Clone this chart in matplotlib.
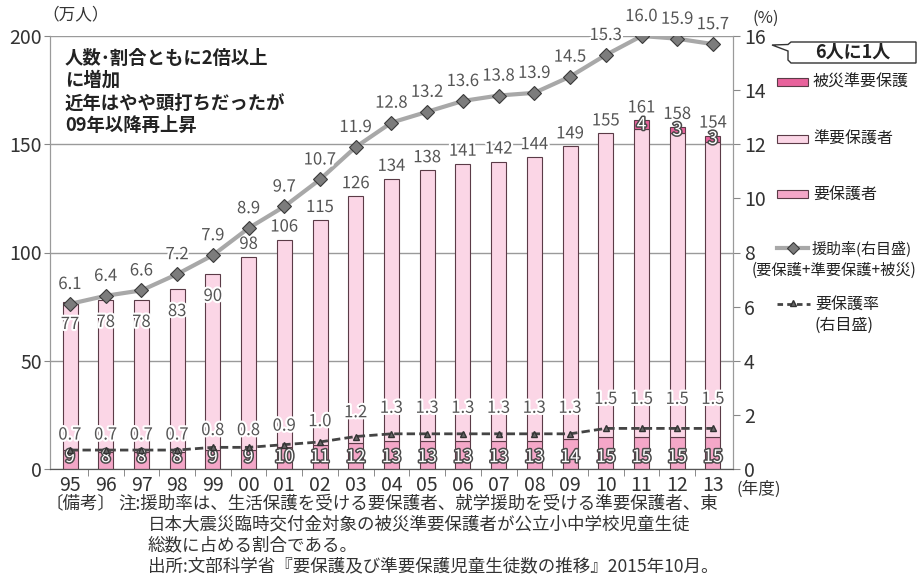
#libs
import matplotlib
matplotlib.use('Agg')
import matplotlib.pyplot as plt
import matplotlib.patheffects as pe
from matplotlib.patches import Rectangle, Polygon
from matplotlib.lines import Line2D
import numpy as np

plt.rcParams['font.family'] = ['Noto Sans CJK JP', 'DejaVu Sans']

#data
years = ['95', '96', '97', '98', '99', '00', '01', '02', '03', '04',
         '05', '06', '07', '08', '09', '10', '11', '12', '13']
total = [77, 78, 78, 83, 90, 98, 106, 115, 126, 134,
         138, 141, 142, 144, 149, 155, 161, 158, 154]
youhogo = [9, 8, 8, 8, 9, 9, 10, 11, 12, 13,
           13, 13, 13, 13, 14, 15, 15, 15, 15]
hisai = [0, 0, 0, 0, 0, 0, 0, 0, 0, 0,
         0, 0, 0, 0, 0, 0, 4, 3, 3]
enjo_rate = [6.1, 6.4, 6.6, 7.2, 7.9, 8.9, 9.7, 10.7, 11.9, 12.8,
             13.2, 13.6, 13.8, 13.9, 14.5, 15.3, 16.0, 15.9, 15.7]
youhogo_rate = [0.7, 0.7, 0.7, 0.7, 0.8, 0.8, 0.9, 1.0, 1.2, 1.3,
                1.3, 1.3, 1.3, 1.3, 1.3, 1.5, 1.5, 1.5, 1.5]

total = np.array(total)
youhogo = np.array(youhogo)
hisai = np.array(hisai)
jun = total - youhogo - hisai

c_you = '#f4a7c8'
c_jun = '#fbd6e6'
c_hisai = '#e8639c'
c_edge = '#5b3b47'
gray_txt = '#555555'

W, H = 918, 585
def fx(x):
    return x / W
def fy(y):
    return 1 - y / H

fig = plt.figure(figsize=(W / 100, H / 100), dpi=100)
ax = fig.add_axes([fx(50), fy(469), (733 - 50) / W, (469 - 36) / H])
ax2 = ax.twinx()

x = np.arange(len(years))
bw = 0.42
ax.bar(x, youhogo, bw, color=c_you, edgecolor=c_edge, linewidth=0.8, zorder=2)
ax.bar(x, jun, bw, bottom=youhogo, color=c_jun, edgecolor=c_edge, linewidth=0.8, zorder=2)
hb = hisai > 0
ax.bar(x[hb], hisai[hb], bw, bottom=(youhogo + jun)[hb], color=c_hisai,
       edgecolor=c_edge, linewidth=0.8, zorder=2)

ax.set_xlim(-0.56, len(years) - 0.44)
ax.set_ylim(0, 200)
ax2.set_ylim(0, 16)
ax.set_yticks([0, 50, 100, 150, 200])
ax2.set_yticks(range(0, 17, 2))
ax.yaxis.grid(True, color='#9a9a9a', linewidth=1)
ax.set_axisbelow(True)
ax.set_xticks(x)
ax.set_xticklabels(years)
ax.set_xticks(x[:-1] + 0.5, minor=True)
ax.tick_params(axis='x', which='major', length=0, labelsize=14, colors='#333333', pad=4)
ax.tick_params(axis='x', which='minor', length=5, color='#777777', direction='out')
ax.tick_params(axis='y', length=4, labelsize=14, colors='#333333', color='#888888', pad=2)
ax2.tick_params(axis='y', length=5, labelsize=14, colors='#333333', color='#888888', pad=3)
for a in (ax, ax2):
    a.spines['top'].set_visible(False)
    a.spines['left'].set_color('#9a9a9a')
    a.spines['right'].set_color('#9a9a9a')
    a.spines['bottom'].set_color('#555555')

# lines on right axis
ax2.plot(x, enjo_rate, color='#a8a8a8', linewidth=3, marker='D', markersize=7,
         markerfacecolor='#7c7c7c', markeredgecolor='#3a3a3a', markeredgewidth=0.8, zorder=5)
ax2.plot(x, youhogo_rate, color='#444444', linewidth=2, linestyle=(0, (3, 1.5)),
         marker='^', markersize=5, markerfacecolor='#666666', markeredgecolor='#333333', zorder=5)

halo = [pe.withStroke(linewidth=3, foreground='white')]
outline = [pe.withStroke(linewidth=2.2, foreground='#4a4a4a')]

for i in range(len(years)):
    ax2.annotate(f'{enjo_rate[i]:.1f}', (x[i], enjo_rate[i]), xytext=(0, 14),
                 textcoords='offset points', ha='center', va='center',
                 fontsize=12, color=gray_txt, path_effects=halo, zorder=6)
    off = 10.8 + (youhogo_rate[i] - 0.7) * 12.6
    ax2.annotate(f'{youhogo_rate[i]:.1f}', (x[i], youhogo_rate[i]), xytext=(0, off),
                 textcoords='offset points', ha='center', va='center',
                 fontsize=12, color=gray_txt, path_effects=halo, zorder=6)
    if i < 5:
        ax.annotate(str(total[i]), (x[i], total[i]), xytext=(0, -16),
                    textcoords='offset points', ha='center', va='center',
                    fontsize=12, color=gray_txt, path_effects=halo, zorder=4)
    else:
        ax.annotate(str(total[i]), (x[i], total[i]), xytext=(0, 9),
                    textcoords='offset points', ha='center', va='center',
                    fontsize=12, color=gray_txt, path_effects=halo, zorder=4)
    ax.text(x[i], 5.5, str(youhogo[i]), ha='center', va='center', fontsize=12.5,
            color='white', path_effects=outline, zorder=4)
    if hisai[i] > 0:
        ax.text(x[i], youhogo[i] + jun[i] + hisai[i] / 2, str(hisai[i]), ha='center',
                va='center', fontsize=12.5, color='white',
                path_effects=outline, zorder=4)

# units
fig.text(fx(42), fy(15), '（万人）', fontsize=12, color='#333333', va='center', ha='left')
fig.text(fx(752), fy(18), '(%)', fontsize=12, color='#333333', va='center', ha='left')
fig.text(fx(736), fy(489), '(年度)', fontsize=12, color='#333333', va='center', ha='left')

# headline
head = ['人数･割合ともに2倍以上', 'に増加', '近年はやや頭打ちだったが', '09年以降再上昇']
for k, s in enumerate(head):
    fig.text(fx(65), fy(58 + k * 22.5), s, fontsize=13.2, fontweight='bold',
             color='#222222', va='center', ha='left')

# callout
poly = [(791, 42), (916, 42), (916, 63), (791, 63), (788, 60), (788, 51),
        (772, 45), (788, 44.5), (791, 42)]
fig.add_artist(Polygon([(fx(a), fy(b)) for a, b in poly], closed=True,
                       transform=fig.transFigure, facecolor='white',
                       edgecolor='#333333', linewidth=1))
fig.text(fx(853), fy(52), '6人に1人', fontsize=13, fontweight='bold',
         color='#222222', ha='center', va='center')

# legend
leg = [(82, c_hisai, '被災準要保護'), (139, c_jun, '準要保護者'), (194, c_you, '要保護者')]
for yy, col, lab in leg:
    fig.add_artist(Rectangle((fx(777), fy(yy + 4)), 31 / W, 8 / H,
                             transform=fig.transFigure, facecolor=col,
                             edgecolor=c_edge, linewidth=0.8))
    fig.text(fx(813), fy(yy), lab, fontsize=11.5, color='#222222', va='center', ha='left')

fig.add_artist(Line2D([fx(777), fx(808)], [fy(248), fy(248)], transform=fig.transFigure,
                      color='#a8a8a8', linewidth=3))
fig.add_artist(Line2D([fx(792.5)], [fy(248)], transform=fig.transFigure, marker='D',
                      markersize=6, markerfacecolor='#7c7c7c', markeredgecolor='#3a3a3a',
                      markeredgewidth=0.8, linestyle='none'))
fig.text(fx(812), fy(248), '援助率(右目盛)', fontsize=10.8, color='#222222', va='center', ha='left')
fig.text(fx(752), fy(270), '(要保護+準要保護+被災)', fontsize=11, color='#222222',
         va='center', ha='left')
fig.add_artist(Line2D([fx(777), fx(810)], [fy(304), fy(304)], transform=fig.transFigure,
                      color='#444444', linewidth=2, linestyle=(0, (2, 1.5))))
fig.add_artist(Line2D([fx(793)], [fy(303)], transform=fig.transFigure, marker='^',
                      markersize=5, markerfacecolor='#666666', markeredgecolor='#333333',
                      linestyle='none'))
fig.text(fx(815), fy(304), '要保護率', fontsize=11.5, color='#222222', va='center', ha='left')
fig.text(fx(815), fy(325), '(右目盛)', fontsize=11.5, color='#222222', va='center', ha='left')

# notes
notes = [(45, 503, '〔備考〕'),
         (118, 503, '注:援助率は、生活保護を受ける要保護者、就学援助を受ける準要保護者、東'),
         (148, 524, '日本大震災臨時交付金対象の被災準要保護者が公立小中学校児童生徒'),
         (148, 545, '総数に占める割合である。'),
         (148, 566, '出所:文部科学省『要保護及び準要保護児童生徒数の推移』2015年10月。')]
for xx, yy, s in notes:
    fig.text(fx(xx), fy(yy), s, fontsize=12.6, color='#333333', va='center', ha='left')

fig.savefig('out.png', dpi=100)
